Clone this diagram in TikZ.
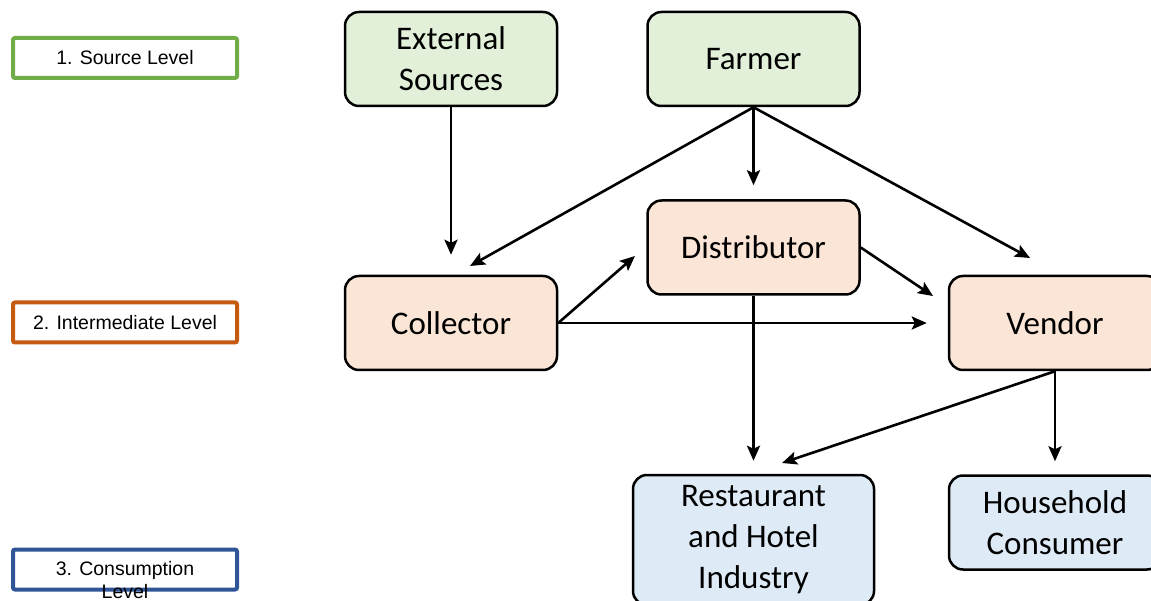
\documentclass[tikz,border=0pt]{standalone}
\usepackage{fontspec}
\setmainfont{Carlito}
\newfontfamily\legfont{Liberation Sans}
\usetikzlibrary{arrows.meta}
\definecolor{gfill}{HTML}{E2F0D9}
\definecolor{ofill}{HTML}{FBE5D6}
\definecolor{bfill}{HTML}{DEEBF7}
\definecolor{gline}{HTML}{70AD47}
\definecolor{oline}{HTML}{C55A11}
\definecolor{bline}{HTML}{2F5597}
\begin{document}
\begin{tikzpicture}[x=1pt,y=-1pt,
  box/.style={draw=black, line width=2.5pt, rounded corners=14pt, minimum width=212pt, minimum height=94pt, align=center, font=\fontsize{33}{41}\selectfont, inner sep=0pt},
  legbox/.style={draw, line width=4pt, minimum width=224pt, minimum height=40pt, rounded corners=2pt, inner sep=0pt},
  legtext/.style={font=\legfont\fontsize{19.5}{23.5}\selectfont, align=center, inner sep=0pt},
  arr/.style={-{Stealth[length=15pt,width=13pt,inset=3pt]}, line width=2.6pt}]
\useasboundingbox (0,0) rectangle (1151,601);

% legend
\node[legbox, draw=gline] (l1) at (125,58) {};
\node[legtext] (l1t) at (l1.center) {1. Source Level};
\node[legbox, draw=oline] (l2) at (125,322.5) {};
\node[legtext] (l2t) at (l2.center) {2. Intermediate Level};
\node[legbox, draw=bline] (l3) at (125,569.5) {};
\node[legtext, anchor=north] (l3t) at (125,561) {3. Consumption\\Level};

% boxes
\node[box, fill=gfill] (ext) at (451,59) {\raisebox{-2pt}{\parbox{200pt}{\centering External\\Sources}}};
\node[box, fill=gfill] (farm) at (753.5,59) {\raisebox{-2pt}{Farmer}};
\node[box, fill=ofill] (dist) at (753.5,247.5) {\raisebox{-2pt}{Distributor}};
\node[box, fill=ofill] (col) at (451,323) {\raisebox{-1pt}{Collector}};
\node[box, fill=ofill] (vend) at (1055,323) {\raisebox{-1pt}{Vendor}};
\node[box, fill=bfill, minimum width=241pt, minimum height=130pt] (rest) at (753.5,540) {\raisebox{-2pt}{\parbox{230pt}{\centering Restaurant\\and Hotel\\Industry}}};
\node[box, fill=bfill] (hh) at (1055,522.5) {\raisebox{-2pt}{\parbox{200pt}{\centering Household\\Consumer}}};

% free ends
\coordinate (c1) at (470,266);
\coordinate (c2) at (1030,258);
\coordinate (c3) at (635,256);
\coordinate (c5) at (933,296);
\coordinate (c6) at (782,463);

% connectors
\draw[arr, shorten >=20pt] (ext.south) -- (col.north);
\draw[arr, shorten >=14pt] (farm.south) -- (dist.north);
\draw[arr] (farm.south) -- (c1);
\draw[arr] (farm.south) -- (c2);
\draw[arr] (col.east) -- (c3);
\draw[arr, shorten >=21pt] (col.east) -- (vend.west);
\draw[arr] (dist.east) -- (c5);
\draw[arr, shorten >=13pt] (dist.south) -- (rest.north);
\draw[arr] (vend.south) -- (c6);
\draw[arr, shorten >=13pt] (vend.south) -- (hh.north);
\end{tikzpicture}
\end{document}
